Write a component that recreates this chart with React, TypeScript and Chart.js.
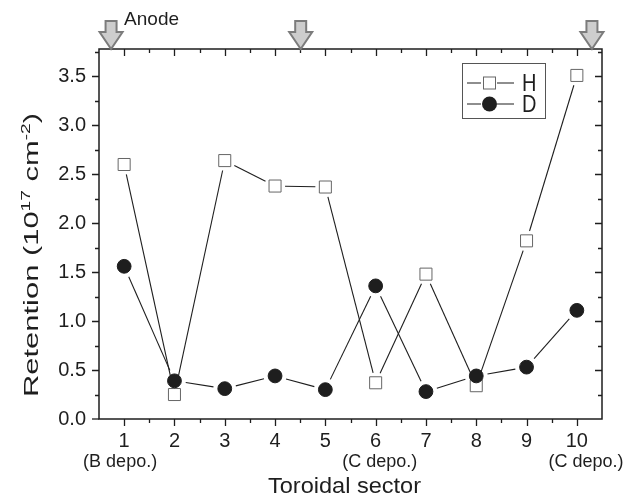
import React, { useEffect, useRef } from "react";
import { Chart, registerables } from "chart.js";

Chart.register(...registerables);

// ---------- data ----------
const sectors = [1, 2, 3, 4, 5, 6, 7, 8, 9, 10];
const hValues = [2.6, 0.25, 2.64, 2.38, 2.37, 0.37, 1.48, 0.34, 1.82, 3.51];
const dValues = [1.56, 0.39, 0.31, 0.44, 0.3, 1.36, 0.28, 0.44, 0.53, 1.11];
const seriesNames = ["H", "D"];
const xTickValues = [1, 2, 3, 4, 5, 6, 7, 8, 9, 10];
const yTickValues = [0, 0.5, 1, 1.5, 2, 2.5, 3, 3.5];
const subLabelTexts = ["(B depo.)", "(C depo.)", "(C depo.)"];
const subLabelSectors = [0.92, 6.08, 10.18];
const arrowSectors = [0.74, 4.51, 10.3];
const arrowLabel = "Anode";
const xTitle = "Toroidal sector";
const yTitleParts = [
  { text: "Retention (10", sup: false },
  { text: "17", sup: true },
  { text: " cm", sup: false },
  { text: "-2", sup: true },
  { text: ")", sup: false },
];

const FONT = "'Liberation Sans', Arial, Helvetica, sans-serif";
const INK = "#1e1e1e";
const SQUARE_HALF = 6;
const CIRCLE_R = 7.4;
const GAP = 4;

const decorPlugin = {
  id: "decor",
  beforeDatasetsDraw(chart: any) {
    const ctx = chart.ctx;
    chart.data.datasets.forEach((ds: any, i: number) => {
      const meta = chart.getDatasetMeta(i);
      const pts = meta.data;
      const isRect = ds.pointStyle === "rect";
      ctx.save();
      ctx.strokeStyle = INK;
      ctx.lineWidth = 1.1;
      for (let k = 0; k < pts.length - 1; k++) {
        const a = pts[k];
        const b = pts[k + 1];
        const dx = b.x - a.x;
        const dy = b.y - a.y;
        const len = Math.hypot(dx, dy);
        if (!len) continue;
        const ux = dx / len;
        const uy = dy / len;
        const cut = isRect
          ? SQUARE_HALF / Math.max(Math.abs(ux), Math.abs(uy)) + GAP
          : CIRCLE_R + GAP;
        if (len <= 2 * cut) continue;
        ctx.beginPath();
        ctx.moveTo(a.x + ux * cut, a.y + uy * cut);
        ctx.lineTo(b.x - ux * cut, b.y - uy * cut);
        ctx.stroke();
      }
      ctx.restore();
    });
  },
  afterDraw(chart: any) {
    const ctx = chart.ctx;
    const { left, right, top, bottom } = chart.chartArea;
    const xs = chart.scales.x;
    const ys = chart.scales.y;
    ctx.save();

    // frame
    ctx.strokeStyle = INK;
    ctx.lineWidth = 1.5;
    ctx.strokeRect(left, top, right - left, bottom - top);

    // x ticks (bottom outward, top inward)
    ctx.lineWidth = 1.3;
    for (let v = xs.min + 0.5; v <= xs.max - 0.5 + 1e-9; v += 0.5) {
      const px = Math.round(xs.getPixelForValue(v)) + 0.5;
      const major = Math.abs(v - Math.round(v)) < 1e-9;
      const L = major ? 7 : 4;
      ctx.beginPath();
      ctx.moveTo(px, bottom);
      ctx.lineTo(px, bottom + L);
      ctx.moveTo(px, top);
      ctx.lineTo(px, top + L);
      ctx.stroke();
    }
    // y ticks (left outward, right inward)
    for (let v = 0.25; v <= ys.max + 1e-9; v += 0.25) {
      const py = Math.round(ys.getPixelForValue(v)) + 0.5;
      const major = Math.abs(v * 2 - Math.round(v * 2)) < 1e-9;
      const L = major ? 7 : 4;
      ctx.beginPath();
      ctx.moveTo(left, py);
      ctx.lineTo(left - L, py);
      ctx.moveTo(right, py);
      ctx.lineTo(right - L, py);
      ctx.stroke();
    }
    {
      const py0 = ys.getPixelForValue(0);
      ctx.beginPath();
      ctx.moveTo(left, py0);
      ctx.lineTo(left - 7, py0);
      ctx.stroke();
    }

    // sub labels
    ctx.fillStyle = INK;
    ctx.font = `18px ${FONT}`;
    ctx.textAlign = "center";
    ctx.textBaseline = "alphabetic";
    subLabelTexts.forEach((t, i) => {
      ctx.fillText(t, xs.getPixelForValue(subLabelSectors[i]), 467);
    });

    // x title (slightly wide lettering)
    ctx.save();
    ctx.translate((left + right) / 2 - 6, 493);
    ctx.scale(1.07, 1);
    ctx.font = `22px ${FONT}`;
    ctx.fillText(xTitle, 0, 0);
    ctx.restore();

    // y title with superscripts, elongated along its length
    const base = 21;
    const supSize = 13;
    const pieces = yTitleParts.map((p) => {
      ctx.font = `${p.sup ? supSize : base}px ${FONT}`;
      return { ...p, w: ctx.measureText(p.text).width };
    });
    const total = pieces.reduce((s, p) => s + p.w, 0);
    const targetLen = 284;
    ctx.save();
    ctx.translate(38, 255);
    ctx.rotate(-Math.PI / 2);
    ctx.scale(targetLen / total, 1);
    ctx.textAlign = "left";
    let cx = -total / 2;
    pieces.forEach((p) => {
      ctx.font = `${p.sup ? supSize : base}px ${FONT}`;
      ctx.fillText(p.text, cx, p.sup ? -8.5 : 0);
      cx += p.w;
    });
    ctx.restore();

    // arrows
    arrowSectors.forEach((s) => {
      const ax = xs.getPixelForValue(s);
      ctx.beginPath();
      ctx.moveTo(ax - 5.5, top - 28);
      ctx.lineTo(ax + 5.5, top - 28);
      ctx.lineTo(ax + 5.5, top - 17);
      ctx.lineTo(ax + 11.5, top - 17);
      ctx.lineTo(ax, top);
      ctx.lineTo(ax - 11.5, top - 17);
      ctx.lineTo(ax - 5.5, top - 17);
      ctx.closePath();
      ctx.fillStyle = "#cdcdcd";
      ctx.fill();
      ctx.strokeStyle = "#7c7c7c";
      ctx.lineWidth = 2;
      ctx.stroke();
    });
    ctx.fillStyle = INK;
    ctx.font = `19px ${FONT}`;
    ctx.textAlign = "left";
    ctx.fillText(arrowLabel, xs.getPixelForValue(arrowSectors[0]) + 13, top - 24);

    // legend
    const lx = 462;
    const ly = 63.5;
    ctx.strokeStyle = "#555";
    ctx.lineWidth = 1;
    ctx.strokeRect(lx + 0.5, ly, 83, 55);
    const rows = [83, 104];
    rows.forEach((ry, i) => {
      ctx.strokeStyle = INK;
      ctx.lineWidth = 1.1;
      ctx.beginPath();
      ctx.moveTo(467, ry);
      ctx.lineTo(481, ry);
      ctx.moveTo(497, ry);
      ctx.lineTo(514, ry);
      ctx.stroke();
      if (i === 0) {
        ctx.fillStyle = "#fff";
        ctx.fillRect(483.5, ry - 6, 12, 12);
        ctx.strokeStyle = "#666";
        ctx.lineWidth = 1;
        ctx.strokeRect(483.5, ry - 6, 12, 12);
      } else {
        ctx.fillStyle = INK;
        ctx.beginPath();
        ctx.arc(489.5, ry, 7.5, 0, Math.PI * 2);
        ctx.fill();
      }
      ctx.save();
      ctx.translate(522, ry + 8.3);
      ctx.scale(1, 1.18);
      ctx.fillStyle = INK;
      ctx.font = `20px ${FONT}`;
      ctx.textAlign = "left";
      ctx.fillText(seriesNames[i], 0, 0);
      ctx.restore();
    });

    ctx.restore();
  },
};

export default function App() {
  const ref = useRef<HTMLCanvasElement>(null);

  useEffect(() => {
    const canvas = ref.current;
    if (!canvas) return;
    const chart = new Chart(canvas, {
      type: "line",
      data: {
        datasets: [
          {
            label: seriesNames[0],
            data: sectors.map((s, i) => ({ x: s, y: hValues[i] })),
            showLine: false,
            pointStyle: "rect",
            pointRadius: 8.5,
            pointBorderWidth: 1,
            pointBackgroundColor: "#ffffff",
            pointBorderColor: "#666666",
            order: 1,
          },
          {
            label: seriesNames[1],
            data: sectors.map((s, i) => ({ x: s, y: dValues[i] })),
            showLine: false,
            pointStyle: "circle",
            pointRadius: 6.9,
            pointBorderWidth: 1,
            pointBackgroundColor: INK,
            pointBorderColor: INK,
            order: 0,
          },
        ],
      },
      options: {
        responsive: false,
        animation: false,
        events: [],
        layout: { padding: { left: 0, top: 49, right: 31, bottom: 0 } },
        plugins: { legend: { display: false }, tooltip: { enabled: false } },
        scales: {
          x: {
            type: "linear",
            min: 0.5,
            max: 10.5,
            afterBuildTicks: (s: any) => {
              s.ticks = xTickValues.map((v) => ({ value: v }));
            },
            afterFit: (s: any) => {
              s.height = 79;
            },
            ticks: {
              autoSkip: false,
              maxRotation: 0,
              padding: 3,
              color: INK,
              font: { family: FONT, size: 20 },
              callback: (v: any) => Number(v).toFixed(0),
            },
            grid: {
              display: true,
              drawOnChartArea: false,
              drawTicks: true,
              tickLength: 7,
              color: "rgba(0,0,0,0)",
            },
            border: { display: false },
          },
          y: {
            type: "linear",
            min: 0,
            max: 3.78,
            afterBuildTicks: (s: any) => {
              s.ticks = yTickValues.map((v) => ({ value: v }));
            },
            afterFit: (s: any) => {
              s.width = 99;
            },
            ticks: {
              autoSkip: false,
              padding: 6,
              color: INK,
              font: { family: FONT, size: 20 },
              callback: (v: any) => Number(v).toFixed(1),
            },
            grid: {
              display: true,
              drawOnChartArea: false,
              drawTicks: true,
              tickLength: 7,
              color: "rgba(0,0,0,0)",
            },
            border: { display: false },
          },
        },
      },
      plugins: [decorPlugin],
    } as any);
    return () => chart.destroy();
  }, []);

  return (
    <canvas
      ref={ref}
      width={633}
      height={498}
      style={{ position: "absolute", left: 0, top: 0, width: 633, height: 498 }}
    />
  );
}
